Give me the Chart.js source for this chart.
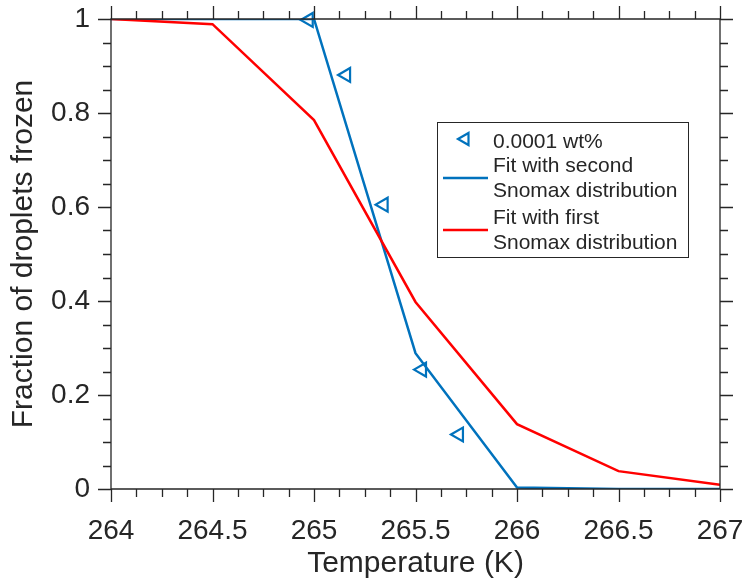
<!DOCTYPE html>
<html>
<head>
<meta charset="utf-8">
<script src="https://cdn.jsdelivr.net/npm/chart.js@4/dist/chart.umd.min.js"></script>
<style>
  html, body { margin: 0; padding: 0; background: #ffffff; }
  #wrap { width: 744px; height: 582px; position: relative; }
</style>
</head>
<body>
<div id="wrap"><canvas id="c" width="744" height="582"></canvas></div>
<script>
// ---- data ----
const fitTemps = [264, 264.5, 265, 265.5, 266, 266.5, 267];
const fitSecond = [1, 1, 1, 0.289, 0.003, 0, 0];
const fitFirst = [1, 0.989, 0.785, 0.398, 0.138, 0.038, 0.009];
const obsTemps = [264.974, 265.158, 265.343, 265.532, 265.714];
const obsFrac = [0.998, 0.881, 0.605, 0.254, 0.116];
const xTickValues = [264, 264.5, 265, 265.5, 266, 266.5, 267];
const yTickValues = [0, 0.2, 0.4, 0.6, 0.8, 1];
const legendLabels = ['0.0001 wt%', ['Fit with second', 'Snomax distribution'], ['Fit with first', 'Snomax distribution']];
const xTitle = 'Temperature (K)';
const yTitle = 'Fraction of droplets frozen';

const BLUE = '#0072BD';
const RED = '#FF0000';
const INK = '#262626';
const FONT = '"Liberation Sans", Arial, Helvetica, sans-serif';

function pts(xs, ys) { return xs.map((x, i) => ({ x: x, y: ys[i] })); }
function fmt(v) { return String(Math.round(v * 1000) / 1000); }

const boxPlugin = {
  id: 'boxTicks',
  afterDraw(chart) {
    const ctx = chart.ctx;
    const a = chart.chartArea;
    const xs = chart.scales.x, ys = chart.scales.y;
    ctx.save();
    ctx.strokeStyle = INK;
    ctx.lineWidth = 1.3;
    ctx.beginPath();
    ctx.rect(a.left, a.top, a.right - a.left, a.bottom - a.top);
    ctx.stroke();
    const MAJ = 13, MIN = 8;
    ctx.beginPath();
    for (let k = 0; k <= 24; k++) {
      const v = xs.min + k * (xs.max - xs.min) / 24;
      const px = Math.round(xs.getPixelForValue(v)) + 0.5;
      const L = (k % 4 === 0) ? MAJ : MIN;
      ctx.moveTo(px, a.bottom); ctx.lineTo(px, a.bottom + L);
      ctx.moveTo(px, a.top); ctx.lineTo(px, a.top - L);
    }
    for (let k = 0; k <= 20; k++) {
      const v = ys.min + k * (ys.max - ys.min) / 20;
      const py = Math.round(ys.getPixelForValue(v)) + 0.5;
      const L = (k % 4 === 0) ? MAJ : MIN;
      ctx.moveTo(a.left, py); ctx.lineTo(a.left - L, py);
      ctx.moveTo(a.right, py); ctx.lineTo(a.right + L, py);
    }
    ctx.stroke();

    // legend
    const lx = 437, ly = 122, lw = 251, lh = 135;
    ctx.fillStyle = '#ffffff';
    ctx.fillRect(lx, ly, lw, lh);
    ctx.lineWidth = 1;
    ctx.strokeStyle = INK;
    ctx.strokeRect(lx + 0.5, ly + 0.5, lw, lh);
    const mx = 465, my = 139, r = 7;
    ctx.strokeStyle = BLUE;
    ctx.lineWidth = 2.2;
    ctx.beginPath();
    ctx.moveTo(mx - r, my);
    ctx.lineTo(mx + r / 2, my - r * 0.866);
    ctx.lineTo(mx + r / 2, my + r * 0.866);
    ctx.closePath();
    ctx.stroke();
    ctx.lineWidth = 2.5;
    ctx.strokeStyle = BLUE;
    ctx.beginPath(); ctx.moveTo(443, 178); ctx.lineTo(488, 178); ctx.stroke();
    ctx.strokeStyle = RED;
    ctx.beginPath(); ctx.moveTo(443, 230); ctx.lineTo(488, 230); ctx.stroke();
    ctx.fillStyle = INK;
    ctx.font = '21px ' + FONT;
    ctx.textBaseline = 'alphabetic';
    ctx.textAlign = 'left';
    const tx = 493;
    ctx.fillText(legendLabels[0], tx, 148);
    ctx.fillText(legendLabels[1][0], tx, 172);
    ctx.fillText(legendLabels[1][1], tx, 197);
    ctx.fillText(legendLabels[2][0], tx, 224);
    ctx.fillText(legendLabels[2][1], tx, 249);
    ctx.restore();
  }
};

new Chart(document.getElementById('c'), {
  type: 'scatter',
  data: {
    datasets: [
      {
        label: 'Fit with first Snomax distribution',
        data: pts(fitTemps, fitFirst),
        showLine: true,
        borderColor: RED,
        backgroundColor: RED,
        borderWidth: 2.5,
        pointRadius: 0,
        tension: 0
      },
      {
        label: 'Fit with second Snomax distribution',
        data: pts(fitTemps, fitSecond),
        showLine: true,
        borderColor: BLUE,
        backgroundColor: BLUE,
        borderWidth: 2.5,
        pointRadius: 0,
        tension: 0
      },
      {
        label: '0.0001 wt%',
        data: pts(obsTemps, obsFrac),
        showLine: false,
        pointStyle: 'triangle',
        rotation: -90,
        pointRadius: 8,
        pointBorderWidth: 2.2,
        borderWidth: 2.2,
        borderColor: BLUE,
        backgroundColor: 'rgba(0,0,0,0)',
        clip: false
      }
    ]
  },
  options: {
    responsive: false,
    animation: false,
    devicePixelRatio: 1,
    layout: { padding: { left: 0, top: 19, right: 24, bottom: 0 } },
    plugins: { legend: { display: false }, tooltip: { enabled: false } },
    scales: {
      x: {
        type: 'linear',
        min: 264, max: 267,
        afterFit(s) { s.height = 93; s.paddingLeft = 0; s.paddingRight = 0; },
        afterBuildTicks(s) { s.ticks = xTickValues.map(v => ({ value: v })); },
        grid: { display: false, drawTicks: false },
        border: { display: false },
        ticks: { color: INK, font: { family: FONT, size: 28 }, padding: 25, maxRotation: 0, autoSkip: false, callback: v => fmt(v) },
        title: { display: true, text: xTitle, color: INK, font: { family: FONT, size: 30, lineHeight: 1 }, padding: { top: 0, bottom: 3 } }
      },
      y: {
        type: 'linear',
        min: 0, max: 1,
        afterFit(s) { s.width = 111; s.paddingTop = 0; s.paddingBottom = 0; },
        afterBuildTicks(s) { s.ticks = yTickValues.map(v => ({ value: v })); },
        grid: { display: false, drawTicks: false },
        border: { display: false },
        ticks: { color: INK, font: { family: FONT, size: 28 }, padding: 21, autoSkip: false, callback: v => fmt(v) },
        title: { display: true, text: yTitle, color: INK, font: { family: FONT, size: 30, lineHeight: 1 }, padding: { top: 9, bottom: 0 } }
      }
    }
  },
  plugins: [boxPlugin]
});
</script>
</body>
</html>
